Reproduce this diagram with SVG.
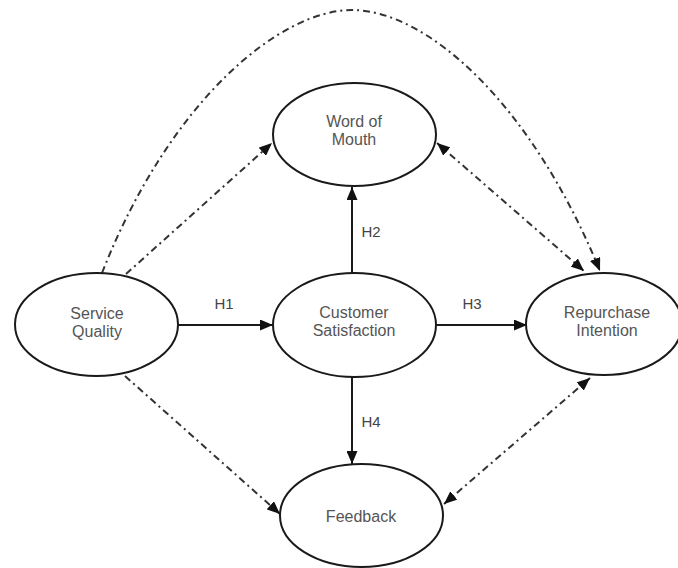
<svg xmlns="http://www.w3.org/2000/svg" width="678" height="568" viewBox="0 0 678 568">
<defs>
<style>
.node ellipse{fill:#fff;stroke:#1a1a1a;stroke-width:2}
.node text{font-family:"Liberation Sans",Arial,sans-serif;font-size:16px;fill:#555;text-anchor:middle}
.lbl{font-family:"Liberation Sans",Arial,sans-serif;font-size:15px;fill:#444;text-anchor:middle}
.solid{fill:none;stroke:#1a1a1a;stroke-width:2;marker-end:url(#ah)}
.dd{fill:none;stroke:#333;stroke-width:2;stroke-dasharray:7 4 2 4}
.one{marker-end:url(#ah)}
.two{marker-start:url(#ah);marker-end:url(#ah)}
</style>
<marker id="ah" markerUnits="userSpaceOnUse" markerWidth="13" markerHeight="11" viewBox="0 0 13 11" refX="13" refY="5.5" orient="auto-start-reverse">
<path d="M0,0 L13,5.5 L0,11 z" fill="#111"/>
</marker>
</defs>
<g id="connectors">
<line class="solid" x1="178" y1="325" x2="273" y2="325"/>
<line class="solid" x1="436" y1="325" x2="527" y2="325"/>
<line class="solid" x1="352" y1="273" x2="352" y2="187"/>
<line class="solid" x1="352" y1="377" x2="352" y2="464"/>
<path class="dd one" d="M102,273 C170,100 280,10 352,10 C425,10 530,100 600,271"/>
<line class="dd one" x1="126" y1="274" x2="272" y2="143"/>
<line class="dd two" x1="437" y1="143" x2="584" y2="271"/>
<line class="dd one" x1="125" y1="376" x2="280" y2="514"/>
<line class="dd two" x1="444" y1="504" x2="590" y2="378"/>
</g>
<g id="service-quality" class="node">
<ellipse cx="96.5" cy="324.5" rx="81.5" ry="51.5"/>
<text x="97" y="318.5">Service</text>
<text x="97" y="336.5">Quality</text>
</g>
<g id="word-of-mouth" class="node">
<ellipse cx="354.5" cy="134.5" rx="81.5" ry="51.5"/>
<text x="354" y="126.5">Word of</text>
<text x="354" y="144.5">Mouth</text>
</g>
<g id="customer-satisfaction" class="node">
<ellipse cx="354.5" cy="325" rx="81.5" ry="52"/>
<text x="354" y="318">Customer</text>
<text x="354" y="335.5">Satisfaction</text>
</g>
<g id="repurchase-intention" class="node">
<ellipse cx="604" cy="324" rx="78" ry="51"/>
<text x="607" y="318">Repurchase</text>
<text x="607" y="335.5">Intention</text>
</g>
<g id="feedback" class="node">
<ellipse cx="361.5" cy="515.5" rx="81.5" ry="51.5"/>
<text x="361" y="521.5">Feedback</text>
</g>
<g id="labels">
<text class="lbl" x="224" y="309">H1</text>
<text class="lbl" x="371" y="237">H2</text>
<text class="lbl" x="472" y="309">H3</text>
<text class="lbl" x="371" y="427">H4</text>
</g>
</svg>
